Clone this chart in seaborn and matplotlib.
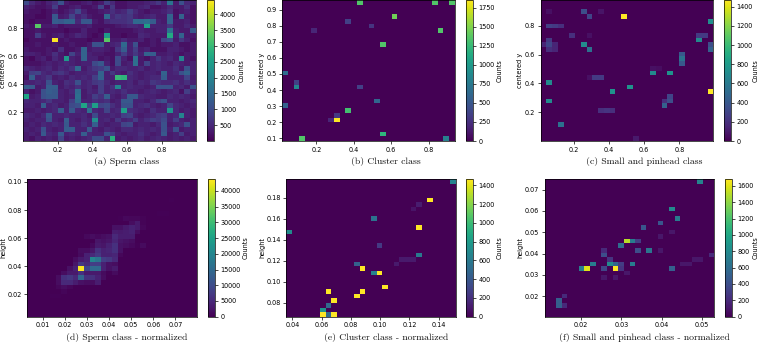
import numpy as np
import matplotlib
matplotlib.use('Agg')
import matplotlib.pyplot as plt
import seaborn as sns

W, H = 760, 344
BINS = 30

# panel a is dense: counts in hundreds, top row first
sperm_rows = [
    [10, 5, 3, 2, 4, 6, 11, 3, 2, 2, 3, 4, 2, 3, 8, 5, 2, 2, 3, 3, 3, 4, 5, 7, 4, 17, 3, 11, 5, 4],
    [4, 3, 2, 2, 3, 8, 2, 2, 3, 4, 2, 2, 3, 9, 2, 7, 2, 2, 3, 3, 4, 5, 2, 2, 3, 5, 3, 3, 6, 2],
    [3, 2, 2, 1, 2, 4, 2, 3, 5, 10, 4, 2, 2, 3, 4, 6, 4, 5, 8, 5, 3, 2, 3, 3, 4, 6, 2, 3, 4, 2],
    [2, 2, 1, 1, 2, 12, 3, 4, 9, 4, 6, 3, 2, 2, 15, 5, 7, 6, 7, 4, 3, 4, 5, 3, 3, 14, 2, 14, 3, 2],
    [2, 1, 2, 2, 2, 13, 12, 14, 14, 5, 12, 12, 3, 2, 5, 6, 6, 6, 7, 15, 15, 16, 13, 4, 3, 14, 3, 3, 4, 2],
    [3, 2, 33, 3, 3, 4, 2, 3, 3, 3, 3, 4, 2, 2, 2, 2, 3, 4, 5, 5, 4, 25, 4, 4, 4, 7, 3, 3, 5, 3],
    [2, 2, 3, 2, 2, 2, 2, 1, 2, 2, 4, 2, 2, 1, 3, 2, 2, 2, 2, 3, 4, 3, 3, 4, 4, 17, 4, 3, 3, 12],
    [2, 2, 8, 3, 2, 3, 4, 2, 3, 5, 4, 2, 1, 2, 24, 2, 2, 1, 2, 2, 5, 4, 3, 3, 3, 27, 4, 14, 3, 3],
    [1, 2, 2, 2, 2, 45, 2, 3, 2, 2, 2, 1, 2, 2, 33, 3, 3, 5, 3, 3, 4, 2, 3, 2, 9, 11, 3, 7, 4, 2],
    [2, 2, 3, 2, 2, 3, 2, 2, 3, 2, 2, 3, 11, 11, 3, 4, 5, 15, 4, 11, 2, 2, 3, 2, 3, 3, 4, 2, 2, 3],
    [3, 2, 2, 2, 3, 2, 6, 2, 2, 3, 14, 3, 4, 4, 3, 2, 7, 13, 4, 8, 3, 4, 2, 2, 2, 4, 4, 3, 2, 3],
    [4, 4, 3, 2, 3, 6, 3, 2, 9, 4, 14, 4, 3, 3, 2, 2, 4, 8, 4, 7, 4, 14, 13, 3, 3, 4, 3, 2, 3, 3],
    [2, 1, 3, 4, 2, 5, 3, 24, 4, 3, 14, 4, 4, 2, 3, 2, 10, 4, 2, 16, 3, 2, 4, 7, 4, 5, 3, 20, 3, 2],
    [2, 2, 2, 3, 4, 3, 4, 5, 4, 3, 4, 4, 10, 12, 4, 2, 10, 3, 4, 16, 3, 9, 4, 5, 4, 3, 5, 4, 3, 4],
    [5, 4, 3, 4, 5, 3, 5, 4, 6, 15, 3, 5, 7, 8, 11, 3, 5, 5, 4, 4, 5, 3, 4, 5, 4, 4, 6, 3, 11, 4],
    [3, 8, 9, 5, 4, 6, 7, 5, 3, 4, 4, 5, 5, 14, 4, 7, 4, 3, 6, 4, 3, 4, 4, 3, 14, 4, 5, 11, 14, 4],
    [2, 13, 4, 5, 7, 3, 4, 3, 5, 4, 5, 4, 8, 14, 4, 4, 30, 29, 5, 4, 3, 4, 5, 5, 13, 4, 4, 4, 9, 3],
    [4, 4, 5, 4, 11, 4, 3, 6, 5, 11, 4, 5, 7, 8, 5, 3, 4, 4, 5, 3, 5, 4, 7, 6, 5, 5, 6, 4, 6, 4],
    [13, 12, 3, 4, 13, 13, 3, 5, 4, 6, 4, 5, 3, 8, 4, 6, 20, 4, 5, 4, 4, 3, 4, 11, 11, 11, 4, 5, 3, 11],
    [4, 2, 3, 11, 13, 12, 4, 3, 5, 15, 3, 5, 4, 8, 4, 5, 4, 6, 4, 4, 3, 4, 5, 4, 3, 4, 5, 2, 8, 4],
    [26, 3, 4, 11, 12, 12, 4, 3, 4, 16, 3, 4, 8, 6, 13, 4, 3, 5, 12, 12, 5, 4, 4, 3, 3, 5, 4, 5, 4, 3],
    [5, 4, 4, 5, 7, 4, 4, 3, 8, 15, 4, 4, 6, 5, 6, 3, 4, 12, 12, 4, 4, 3, 5, 9, 11, 4, 4, 3, 4, 5],
    [4, 4, 3, 13, 4, 5, 3, 4, 10, 11, 26, 9, 25, 9, 10, 6, 4, 11, 11, 4, 5, 6, 4, 3, 4, 9, 5, 4, 3, 4],
    [3, 3, 4, 3, 4, 5, 13, 4, 12, 5, 4, 16, 5, 4, 9, 4, 5, 25, 6, 5, 4, 3, 6, 4, 4, 23, 5, 3, 4, 3],
    [5, 4, 3, 5, 12, 4, 4, 5, 4, 4, 5, 3, 10, 4, 4, 5, 4, 8, 9, 4, 3, 4, 5, 7, 8, 4, 5, 20, 4, 3],
    [4, 3, 4, 4, 11, 4, 3, 13, 4, 3, 5, 4, 22, 4, 5, 3, 7, 4, 5, 8, 4, 6, 8, 7, 10, 4, 8, 4, 3, 4],
    [3, 4, 3, 5, 4, 5, 4, 12, 4, 4, 6, 4, 13, 4, 3, 4, 4, 9, 10, 3, 4, 4, 3, 5, 11, 3, 4, 5, 11, 4],
    [4, 3, 4, 11, 4, 3, 4, 13, 13, 4, 4, 12, 4, 3, 5, 4, 3, 5, 5, 4, 5, 4, 5, 4, 11, 4, 11, 3, 4, 4],
    [3, 4, 3, 12, 5, 4, 12, 4, 5, 4, 13, 5, 4, 4, 11, 8, 4, 3, 4, 4, 6, 4, 3, 4, 12, 3, 4, 8, 3, 4],
    [3, 2, 4, 3, 4, 3, 9, 3, 4, 3, 4, 5, 10, 10, 4, 28, 3, 4, 3, 4, 5, 3, 4, 5, 4, 3, 4, 3, 4, 3],
]

# sparse panels: bin column, bin row (from bottom), count
cluster_col = [13, 26, 29, 19, 11, 15, 5, 27, 17, 0, 2, 2, 13, 0, 16, 11, 9, 8, 9, 17, 3, 28]
cluster_row = [29, 29, 29, 26, 25, 24, 23, 23, 20, 14, 12, 11, 11, 7, 8, 6, 5, 4, 4, 1, 0, 0]
cluster_val = [1350, 1350, 1350, 1450, 350, 280, 200, 1350, 1350, 650, 350, 850, 350, 550, 600, 1300, 300, 200, 1850, 1200, 1350, 800]

small_col = [14, 29, 1, 1, 29, 12, 15, 19, 22, 7, 8, 27, 27, 28, 3, 21, 22, 22, 21, 24, 24, 24, 29, 29, 7, 8,
             1, 2, 3, 5, 0, 1, 1, 2, 1, 2, 9, 10, 8, 10, 11, 12, 16, 10, 1, 8, 19, 20]
small_row = [26, 25, 12, 8, 10, 10, 11, 14, 14, 20, 19, 21, 22, 22, 3, 7, 9, 8, 8, 18, 17, 16, 20, 19, 27, 26,
             24, 24, 24, 22, 20, 21, 20, 20, 19, 19, 13, 13, 13, 6, 6, 6, 0, 27, 27, 22, 15, 15]
small_val = [1470, 720, 700, 700, 1470, 750, 750, 700, 750, 700, 550, 700, 250, 250, 550, 450, 300, 350, 200, 400, 550, 400, 350, 450, 350, 300,
             280, 250, 200, 200, 150, 250, 300, 150, 200, 150, 250, 250, 60, 200, 220, 200, 100, 80, 60, 60, 60, 50]

# panel d, bin rows 4 to 25 from the bottom: first bin column of the row and its counts
sperm_n_first = [4, 6, 5, 5, 5, 6, 7, 8, 8, 9, 9, 11, 12, 10, 15, 15, 18, 16, 23, 0, 0, 25]
sperm_n_rows = [
    [300, 300],
    [600],
    [800, 1500, 800],
    [1500, 5000, 5000, 3500, 2000, 1500, 1500, 3500],
    [1500, 6000, 7000, 5000, 14000, 6000, 6000, 4000, 1500],
    [1500, 3000, 3000, 6000, 3000, 3000, 3000, 1200, 300, 1200],
    [2000, 4000, 43500, 9000, 15000, 15000, 4000, 2000, 3000],
    [2500, 7000, 5000, 8000, 8000, 4000, 2000, 1500],
    [1500, 3000, 4000, 20000, 17000, 8000, 7000, 5000],
    [1200, 4000, 5000, 7000, 4000, 4000, 4500, 800],
    [1500, 1500, 2500, 6000, 4000, 4500, 6000, 2000],
    [1000, 3000, 2500, 4000, 6000, 2000, 1500, 1000, 300, 1200],
    [2500, 2000, 2500, 4500, 2500, 2000, 1500],
    [1000, 1500, 1000, 1500, 2000, 5000, 3500, 3500, 3500],
    [3500, 3000, 3500, 4000, 1500],
    [2000, 2000, 3000, 4000, 3000, 800],
    [1500, 3000, 500],
    [300, 1000, 800, 800, 400],
    [300, 300],
    [],
    [],
    [250],
]

cluster_n_col = [29, 25, 23, 22, 15, 23, 0, 16, 23, 12, 13, 15, 16, 17, 7, 13, 12, 8, 7, 6, 6, 7, 8, 19, 20, 21, 22]
cluster_n_row = [29, 25, 24, 23, 21, 19, 18, 15, 13, 11, 10, 9, 9, 6, 5, 5, 4, 3, 2, 1, 0, 0, 0, 11, 12, 12, 12]
cluster_n_val = [650, 1465, 120, 80, 550, 1465, 700, 250, 600, 450, 1465, 650, 1465, 1465, 1465, 1465, 1465, 1465, 500, 750, 1465, 500, 1465, 100, 100, 100, 100]

small_n_col = [27, 22, 23, 20, 17, 14, 15, 16, 13, 16, 18, 10, 10, 8, 11, 11, 12, 13, 15, 6, 7, 10, 12, 13, 22, 20, 22, 20, 29, 27, 26, 24, 25, 2, 2, 3, 3, 10, 12, 14]
small_n_row = [29, 23, 21, 20, 19, 16, 16, 16, 15, 14, 14, 14, 13, 11, 12, 11, 11, 11, 11, 10, 10, 10, 10, 10, 10, 17, 18, 14, 13, 12, 12, 11, 11, 3, 2, 4, 2, 8, 8, 9]
small_n_val = [750, 800, 700, 450, 450, 1500, 700, 300, 600, 400, 650, 200, 400, 700, 250, 800, 550, 300, 700, 700, 1600, 350, 1680, 250, 500, 100, 100, 100, 200, 100, 100, 100, 100, 500, 500, 200, 200, 100, 100, 100]

# layout in pixels: axes left, right, top, bottom, then colorbar left, right
panels = [
    dict(box=(23.3, 196, 0, 141), cb=(207, 214.3), xlim=(0.0015, 0.998), ylim=(-0.005, 1.002),
         xt=[0.2, 0.4, 0.6, 0.8], yt=[0.2, 0.4, 0.6, 0.8], fmt='%.1f', yl='centered y', vmax=4450,
         ct=[500, 1000, 1500, 2000, 2500, 3000, 3500, 4000], cap='(a) Sperm class', cx=127, cy=162, ylx=3.5, clx=241.5),
    dict(box=(282, 455, 0, 141), cb=(466, 472.7), xlim=(0.0166, 0.9406), ylim=(0.0834, 0.96),
         xt=[0.2, 0.4, 0.6, 0.8], yt=[0.1, 0.2, 0.3, 0.4, 0.5, 0.6, 0.7, 0.8, 0.9], fmt='%.1f', yl='centered y', vmax=1850,
         ct=[0, 250, 500, 750, 1000, 1250, 1500, 1750], cap='(b) Cluster class', cx=385.7, cy=162, ylx=262, clx=499.5),
    dict(box=(540.7, 713.3, 0, 141), cb=(724.3, 731), xlim=(0.0101, 0.9937), ylim=(0.0014, 0.978),
         xt=[0.2, 0.4, 0.6, 0.8], yt=[0.2, 0.4, 0.6, 0.8], fmt='%.1f', yl='centered y', vmax=1470,
         ct=[0, 200, 400, 600, 800, 1000, 1200, 1400], cap='(c) Small and pinhead class', cx=644, cy=162, ylx=520, clx=756),
    dict(box=(27.3, 197, 179.3, 316.7), cb=(207.7, 215), xlim=(0.0029, 0.0798), ylim=(0.0041, 0.1019),
         xt=[0.01, 0.02, 0.03, 0.04, 0.05, 0.06, 0.07], yt=[0.02, 0.04, 0.06, 0.08, 0.10], fmt='%.2f', yl='height', vmax=43700,
         ct=[0, 5000, 10000, 15000, 20000, 25000, 30000, 35000, 40000], cap='(d) Sperm class - normalized', cx=127, cy=338, ylx=3.5, clx=245.5),
    dict(box=(286.3, 455.7, 179.3, 316.7), cb=(466.3, 473), xlim=(0.0359, 0.1516), ylim=(0.0666, 0.1978),
         xt=[0.04, 0.06, 0.08, 0.10, 0.12, 0.14], yt=[0.08, 0.10, 0.12, 0.14, 0.16, 0.18], fmt='%.2f', yl='height', vmax=1465,
         ct=[0, 200, 400, 600, 800, 1000, 1200, 1400], cap='(e) Cluster class - normalized', cx=385.7, cy=338, ylx=262, clx=499.5),
    dict(box=(544.7, 714.3, 179.3, 316.7), cb=(725, 731.7), xlim=(0.01097, 0.0531), ylim=(0.01047, 0.0748),
         xt=[0.02, 0.03, 0.04, 0.05], yt=[0.02, 0.03, 0.04, 0.05, 0.06, 0.07], fmt='%.2f', yl='height', vmax=1680,
         ct=[0, 200, 400, 600, 800, 1000, 1200, 1400, 1600], cap='(f) Small and pinhead class - normalized', cx=644, cy=338, ylx=520, clx=756),
]


def sparse_grid(cols, rows, vals):
    grid = np.zeros((BINS, BINS))
    grid[rows, cols] = vals
    return grid


def run_grid(first_row, firsts, rows):
    grid = np.zeros((BINS, BINS))
    for i, (first, vals) in enumerate(zip(firsts, rows)):
        grid[first_row + i, first:first + len(vals)] = vals
    return grid


def px_axes(fig, left, right, top, bottom):
    return fig.add_axes([left / W, 1 - bottom / H, (right - left) / W, (bottom - top) / H])


def draw_panel(fig, grid, p):
    ax = px_axes(fig, *p['box'])
    cax = px_axes(fig, p['cb'][0], p['cb'][1], p['box'][2], p['box'][3])
    xedges = np.linspace(*p['xlim'], BINS + 1)
    yedges = np.linspace(*p['ylim'], BINS + 1)
    xc = (xedges[:-1] + xedges[1:]) / 2
    yc = (yedges[:-1] + yedges[1:]) / 2
    xx, yy = np.meshgrid(xc, yc)
    sns.histplot(x=xx.ravel(), y=yy.ravel(), weights=grid.ravel(), bins=[xedges, yedges],
                 cmap='viridis', thresh=None, vmin=0, vmax=p['vmax'], ax=ax,
                 cbar=True, cbar_ax=cax)
    ax.set_xlim(*p['xlim'])
    ax.set_ylim(*p['ylim'])
    ax.set_xticks(p['xt'], [p['fmt'] % v for v in p['xt']])
    ax.set_yticks(p['yt'], [p['fmt'] % v for v in p['yt']])
    ax.tick_params(labelsize=4.7, length=2, width=0.5, pad=2)
    for s in ax.spines.values():
        s.set_linewidth(0.5)
    ax.set_xlabel('')
    ax.set_ylabel(p['yl'], fontsize=4.7, va='center')
    mid = 1 - (p['box'][2] + p['box'][3]) / 2 / H
    ax.yaxis.set_label_coords(p['ylx'] / W, mid, transform=fig.transFigure)

    cax.set_yticks(p['ct'])
    cax.tick_params(labelsize=4.7, length=2, width=0.5, pad=2)
    cax.set_ylabel('Counts', fontsize=4.7, va='center')
    cax.yaxis.set_label_coords(p['clx'] / W, mid, transform=fig.transFigure)
    for s in cax.spines.values():
        s.set_linewidth(0.5)
    fig.text(p['cx'] / W, 1 - p['cy'] / H, p['cap'], family='cmr10', fontsize=7.0,
             ha='center', va='center', color='#111111')


def main():
    fig = plt.figure(figsize=(W / 100, H / 100), dpi=100)
    grids = [
        np.array(sperm_rows[::-1]) * 100.0,
        sparse_grid(cluster_col, cluster_row, cluster_val),
        sparse_grid(small_col, small_row, small_val),
        run_grid(4, sperm_n_first, sperm_n_rows),
        sparse_grid(cluster_n_col, cluster_n_row, cluster_n_val),
        sparse_grid(small_n_col, small_n_row, small_n_val),
    ]
    for grid, p in zip(grids, panels):
        draw_panel(fig, grid, p)
    fig.savefig('out.png', dpi=100)


if __name__ == "__main__":
    main()
